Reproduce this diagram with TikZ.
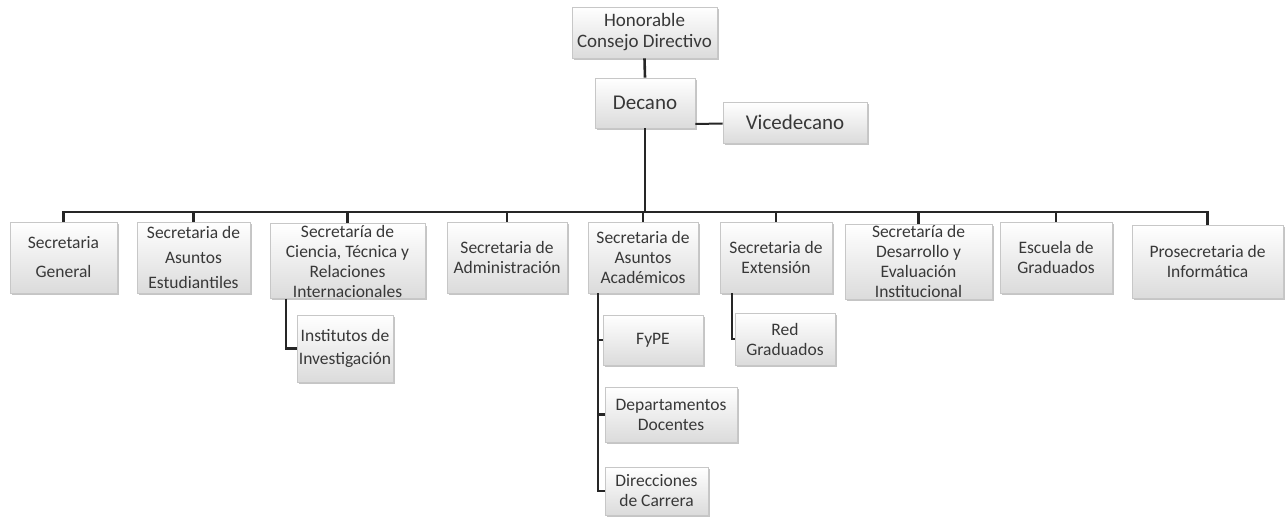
\documentclass[tikz,border=0pt]{standalone}
\usepackage{fontspec}
\setmainfont{Carlito}
\usetikzlibrary{shadows}
\begin{document}
\begin{tikzpicture}[x=1pt,y=-1pt,
  box/.style={draw=black!22, line width=0.8pt, top color=white, bottom color=black!14,
    drop shadow={shadow xshift=1.5pt, shadow yshift=-2pt, fill=black!45, opacity=0.5},
    align=center, inner sep=1pt, text=black!78,
    font=\fontsize{17.5}{20}\selectfont},
  conn/.style={draw=black!85, line width=2.6pt}]
\useasboundingbox (0,0) rectangle (1285,524);
% nodes
\node[box, minimum width=145pt, minimum height=51pt, font=\fontsize{19}{21}\selectfont] (hcd) at (644.5,32.5) {Honorable\\Consejo Directivo};
\node[box, minimum width=100pt, minimum height=50pt, font=\fontsize{21}{22}\selectfont] (dec) at (645,103) {Decano};
\node[box, minimum width=144pt, minimum height=41pt, font=\fontsize{21}{22}\selectfont] (vice) at (795,122.5) {Vicedecano};
\node[box, minimum width=107pt, minimum height=71pt, font=\fontsize{17.5}{29}\selectfont] (sg) at (63.5,257.5) {Secretaria\\General};
\node[box, minimum width=113pt, minimum height=71pt, font=\fontsize{17.5}{25}\selectfont] (sae) at (193.5,257.5) {Secretaria de\\Asuntos\\Estudiantiles};
\node[box, minimum width=155pt, minimum height=74pt] (scti) at (347.5,261) {Secretaría de\\Ciencia, Técnica y\\Relaciones\\Internacionales};
\node[box, minimum width=120pt, minimum height=71pt] (sad) at (507,257.5) {Secretaria de\\Administración};
\node[box, minimum width=110pt, minimum height=71pt] (saa) at (643,257.5) {Secretaria de\\Asuntos\\Académicos};
\node[box, minimum width=112pt, minimum height=71pt] (sex) at (776,257.5) {Secretaria de\\Extensión};
\node[box, minimum width=147pt, minimum height=75pt] (sdei) at (918.5,261.5) {Secretaría de\\Desarrollo y\\Evaluación\\Institucional};
\node[box, minimum width=112pt, minimum height=71pt] (eg) at (1056,257.5) {Escuela de\\Graduados};
\node[box, minimum width=151pt, minimum height=73pt] (pi) at (1207.5,261.5) {Prosecretaria de\\Informática};
\node[box, minimum width=96pt, minimum height=67pt, font=\fontsize{17.5}{23}\selectfont] (ii) at (345,348.5) {Institutos de\\Investigación};
\node[box, minimum width=100pt, minimum height=50pt] (fype) at (653,340) {FyPE};
\node[box, minimum width=100pt, minimum height=52pt] (rg) at (785,339) {Red\\Graduados};
\node[box, minimum width=132pt, minimum height=55pt] (dd) at (671,414.5) {Departamentos\\Docentes};
\node[box, minimum width=103pt, minimum height=48pt] (dc) at (656.5,491) {Direcciones\\de Carrera};
% connectors
\coordinate (bus) at (645,212);
\draw[conn] (hcd.south) -- (dec.north);
\draw[conn, line width=2pt] ([yshift=-21pt]dec.east) -- ([yshift=-1pt]vice.west);
\draw[conn] (dec.south) -- (bus);
\foreach \b in {sg,sae,scti,sad,saa,sex,sdei,eg,pi}{
  \draw[conn] (bus) -| (\b.north);
}
\draw[conn] ([xshift=-61.5pt]scti.south) |- (ii.west);
\draw[conn] ([xshift=-45pt]saa.south) |- (fype.west);
\draw[conn] ([xshift=-45pt]saa.south) |- (dd.west);
\draw[conn] ([xshift=-45pt]saa.south) |- (dc.west);
\draw[conn] ([xshift=-44pt]sex.south) |- (rg.west);
\end{tikzpicture}
\end{document}
